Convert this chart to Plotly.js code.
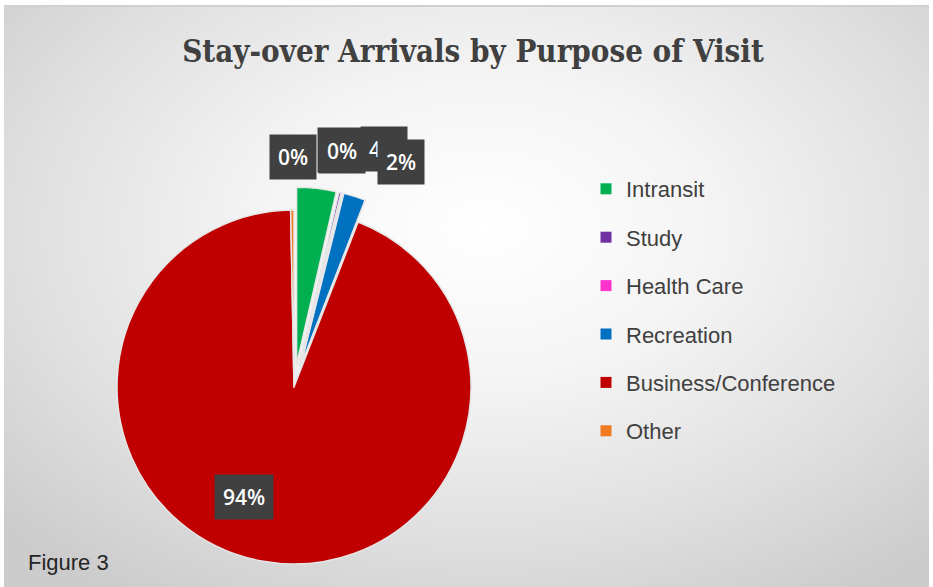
<!DOCTYPE html>
<html>
<head>
<meta charset="utf-8">
<script src="https://cdn.plot.ly/plotly-3.0.1.min.js"></script>
<style>
  html, body { margin: 0; padding: 0; background: #ffffff; width: 933px; height: 587px; overflow: hidden; }
  #bg { position: absolute; left: 4px; top: 5px; width: 925px; height: 582px;
        background: radial-gradient(ellipse 70% 75% at 52% 38%, #ffffff 0%, #f4f4f4 35%, #e0e0e0 70%, #cccccc 100%);
        border-top: 2px solid #d0d0d0; }
  #chart { position: absolute; left: 0; top: 0; width: 933px; height: 587px; }
</style>
</head>
<body>
<div id="bg"></div>
<div id="chart"></div>
<script>
// ---- data ----
var categories = ["Intransit", "Study", "Health Care", "Recreation", "Business/Conference", "Other"];
var shares = [3.6, 0.2, 0.1, 2.0, 93.8, 0.3];
var colors = ["#00B050", "#7030A0", "#FF33CC", "#0070C0", "#C00000", "#F07A20"];
var pulls = [0.13, 0.13, 0.13, 0.13, 0, 0];

// ---- layout geometry ----
var W = 933, H = 587;
var dom = { x: [0.0951, 0.5351], y: [0, 0.6814] };
var maxPull = Math.max.apply(null, pulls);
var cx = W * (dom.x[0] + dom.x[1]) / 2;
var cy = H * (2 - dom.y[0] - dom.y[1]) / 2;
var r = Math.min(W * (dom.x[1] - dom.x[0]), H * (dom.y[1] - dom.y[0])) / (2 + 2 * maxPull);

// label radius factors and de-collision nudges (px) per category
var labelRadius = [1.29, 1.29, 1.29, 1.29, 0.62, 1.29];
var labelNudge = [[64, -11], [-5, -14], [-8, -15], [38, -7], [-31, 2], [1, -2]];
var drawOrder = [2, 1, 5, 0, 3, 4];

var total = shares.reduce(function (a, b) { return a + b; }, 0);
var starts = [], acc = 0;
shares.forEach(function (v) { starts.push(acc); acc += v; });

var annotations = [];
drawOrder.forEach(function (i) {
  var mid = (starts[i] + shares[i] / 2) / total * 2 * Math.PI;
  var R = r * labelRadius[i];
  var px = cx + R * Math.sin(mid) + labelNudge[i][0];
  var py = cy - R * Math.cos(mid) + labelNudge[i][1];
  annotations.push({
    x: px / W, y: 1 - py / H, xref: "paper", yref: "paper",
    xanchor: "center", yanchor: "middle", showarrow: false,
    text: Math.round(shares[i] / total * 100) + "%",
    font: { family: "Open Sans, DejaVu Sans, sans-serif", size: 21, color: "#ffffff", weight: 600 },
    bgcolor: "#404040", borderpad: 8
  });
});

annotations.push({
  x: 26 / W, y: 1 - 562 / H, xref: "paper", yref: "paper", xanchor: "left", yanchor: "middle",
  showarrow: false, text: "Figure 3",
  font: { family: "Liberation Sans, Arial, sans-serif", size: 22, color: "#262626" }
});

var traces = [{
  type: "pie",
  labels: categories,
  values: shares,
  sort: false,
  direction: "clockwise",
  rotation: 0,
  pull: pulls,
  marker: { colors: colors, line: { color: "#e6e6e6", width: 1.5 } },
  textinfo: "none",
  hoverinfo: "label+percent",
  showlegend: false,
  domain: dom
}];

// legend entries (one group each so spacing can be set)
categories.forEach(function (c, i) {
  traces.push({
    type: "scatter", mode: "markers", x: [null], y: [null], name: c,
    legendgroup: "g" + i, showlegend: true,
    marker: { symbol: "square", size: 11, color: colors[i] },
    hoverinfo: "skip"
  });
});

var layout = {
  width: W, height: H,
  margin: { l: 0, r: 0, t: 0, b: 0 },
  paper_bgcolor: "rgba(0,0,0,0)",
  plot_bgcolor: "rgba(0,0,0,0)",
  title: {
    text: "<b>Stay-over Arrivals by Purpose of Visit</b>",
    x: 473 / W, xanchor: "center", y: 1 - 51 / H, yanchor: "middle", yref: "container",
    font: { family: "DejaVu Serif Condensed, Liberation Serif, serif", size: 31, color: "#404040" }
  },
  xaxis: { visible: false, domain: [0.99, 1] },
  yaxis: { visible: false, domain: [0.99, 1] },
  showlegend: true,
  legend: {
    x: 586 / W, y: 1 - 168 / H, xanchor: "left", yanchor: "top",
    bgcolor: "rgba(0,0,0,0)",
    font: { family: "Liberation Sans, Arial, sans-serif", size: 22, color: "#404040" },
    tracegroupgap: 16.8, itemwidth: 30,
    traceorder: "grouped"
  },
  annotations: annotations
};

Plotly.newPlot("chart", traces, layout, { displayModeBar: false, staticPlot: true });
</script>
</body>
</html>
